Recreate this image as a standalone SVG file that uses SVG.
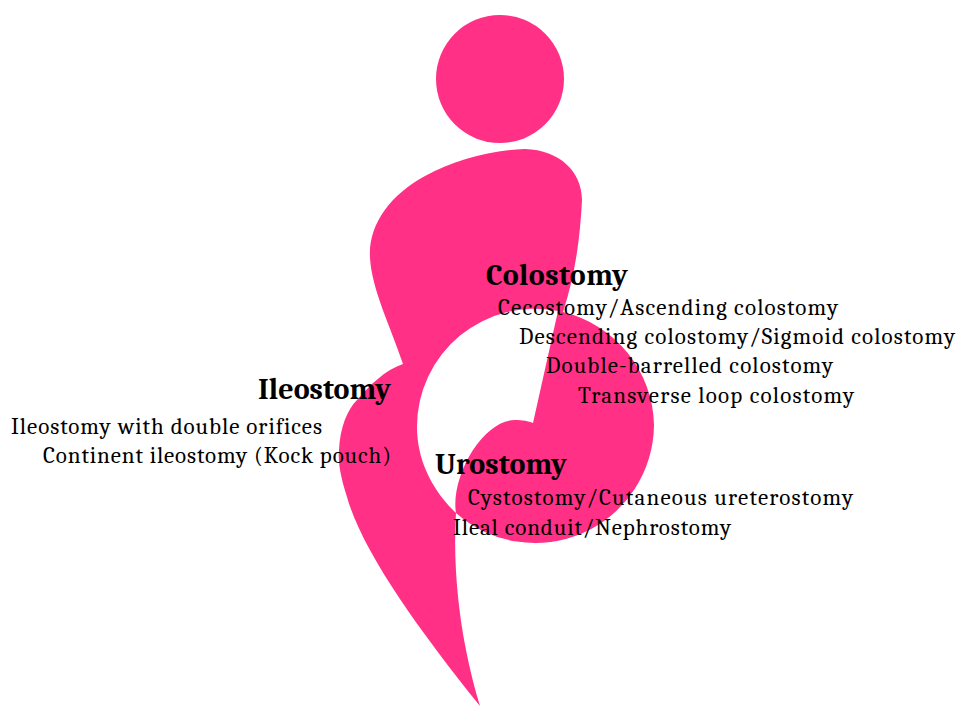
<svg xmlns="http://www.w3.org/2000/svg" width="957" height="706" viewBox="0 0 957 706">
<style>
.s{fill:#ff3085}
.h{font-family:"Cambria","Liberation Serif","DejaVu Serif",serif;font-weight:700;font-size:30px;fill:#000}
.t{font-family:"Cambria","Liberation Serif","DejaVu Serif",serif;font-size:23px;fill:#000}
</style>
<rect width="957" height="706" fill="#fff"/>
<g id="figure">
<circle class="s" cx="500" cy="79" r="64"/>
<path class="s" d="M403 364C390 325 372 290 370 258C368 225 390 195 425 176C455 160 490 150 525 149C560 150 582 172 582 200C580 240 575 275 563 312A119 119 0 0 1 654 425A119 119 0 0 1 456 513C453 495 460 470 473 450C485 432 500 420 515 420C523 420 528 421 533 423L558 311A118 118 0 0 0 417 427C417 460 432 490 456 513C453 560 458 610 466 650C470 670 475 690 480 706C415 625 362 550 347 497C340 475 338 462 339 450C340 428 347 410 357 400C370 385 385 370 403 364Z"/>
</g>
<g id="colostomy">
<text class="h" x="486" y="285" textLength="142">Colostomy</text>
<text class="t" x="498" y="315" textLength="340">Cecostomy/Ascending colostomy</text>
<text class="t" x="519" y="344" textLength="436">Descending colostomy/Sigmoid colostomy</text>
<text class="t" x="546" y="373" textLength="287">Double-barrelled colostomy</text>
<text class="t" x="578" y="403" textLength="276">Transverse loop colostomy</text>
</g>
<g id="ileostomy">
<text class="h" x="258" y="399" textLength="133">Ileostomy</text>
<text class="t" x="11" y="434" textLength="311">Ileostomy with double orifices</text>
<text class="t" x="43" y="463" textLength="348">Continent ileostomy (Kock pouch)</text>
</g>
<g id="urostomy">
<text class="h" x="435" y="474" textLength="132">Urostomy</text>
<text class="t" x="468" y="505" textLength="385">Cystostomy/Cutaneous ureterostomy</text>
<text class="t" x="453" y="535" textLength="278">Ileal conduit/Nephrostomy</text>
</g>
<g id="connectors"/>
</svg>
